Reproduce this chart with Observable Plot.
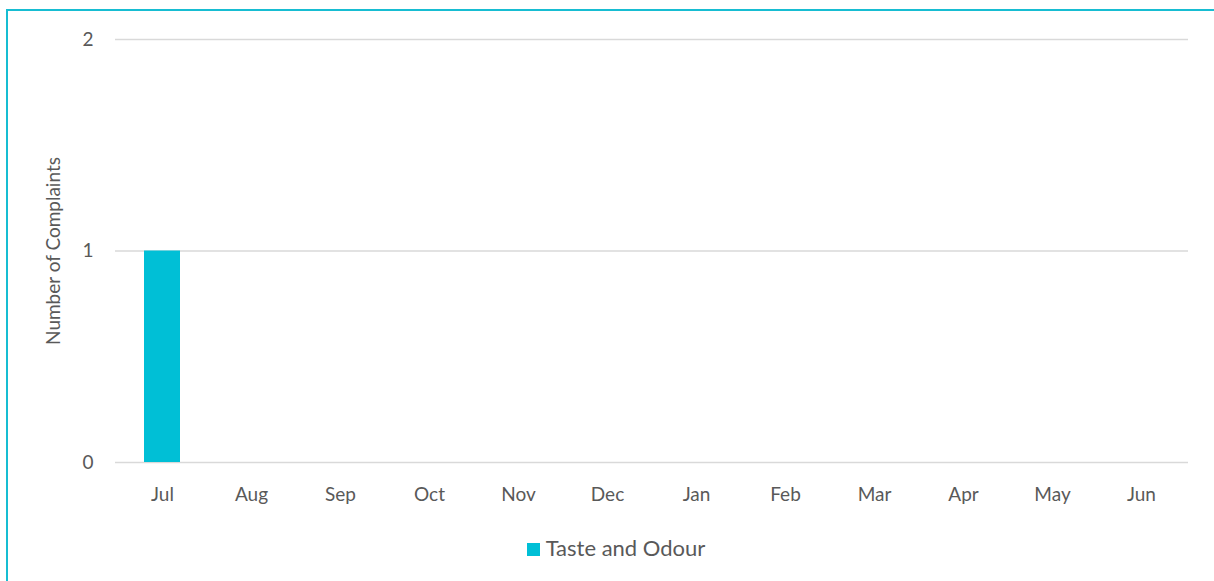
<!DOCTYPE html>
<html>
<head>
<meta charset="utf-8">
<script src="https://cdn.jsdelivr.net/npm/d3@7"></script>
<script src="https://cdn.jsdelivr.net/npm/@observablehq/plot@0.6"></script>
<style>
  html, body { margin: 0; padding: 0; background: #fff; overflow: hidden; width: 1214px; height: 581px; }
  #chart { position: absolute; left: 0; top: 0; }
  .edge { position: absolute; z-index: 5; background: #17BDD2; pointer-events: none; }
  #edgeTop { left: 6px; top: 9px; width: 1300px; height: 2px; }
  #edgeLeft { left: 6px; top: 9px; width: 2px; height: 700px; }
  #legend { position: absolute; left: 0; top: 534px; width: 1232px; text-align: center; font-family: Lato, sans-serif; font-size: 22px; color: #595959; }
  #legend .sw { display: inline-block; width: 13px; height: 13px; background: #00BFD6; margin-right: 6px; vertical-align: 0px; }
</style>
</head>
<body>
<div id="chart"></div>
<div class="edge" id="edgeTop"></div>
<div class="edge" id="edgeLeft"></div>
<div id="legend"><span class="sw"></span>Taste and Odour</div>
<script>
const months = ["Jul","Aug","Sep","Oct","Nov","Dec","Jan","Feb","Mar","Apr","May","Jun"];
const tasteOdour = [1,0,0,0,0,0,0,0,0,0,0,0];
const yTicks = [0,1,2];
const seriesName = "Taste and Odour";

const data = months.map((m, i) => ({month: m, value: tasteOdour[i], series: seriesName}));

const chart = Plot.plot({
  width: 1214,
  height: 520,
  marginLeft: 115,
  marginRight: 26,
  marginTop: 39,
  marginBottom: 58,
  style: {fontFamily: "Lato, sans-serif", fontSize: "19px", color: "#595959", background: "transparent"},
  x: {domain: months, paddingInner: 0.6, paddingOuter: 0.3, label: null},
  y: {domain: [0, 2], ticks: yTicks, label: null},
  marks: [
    Plot.gridY(yTicks, {stroke: "#d9d9d9", strokeOpacity: 1, strokeWidth: 1.5}),
    Plot.barY(data, {x: "month", y: "value", fill: "#00BFD6"}),
    Plot.axisX({tickSize: 0, tickPadding: 25, fontSize: 19}),
    Plot.axisY(yTicks, {tickSize: 0, tickPadding: 22, fontSize: 19, tickFormat: d3.format("d"),
      label: "Number of Complaints", labelAnchor: "center", labelArrow: "none", labelOffset: 69})
  ]
});
document.getElementById("chart").appendChild(chart);
</script>
</body>
</html>
